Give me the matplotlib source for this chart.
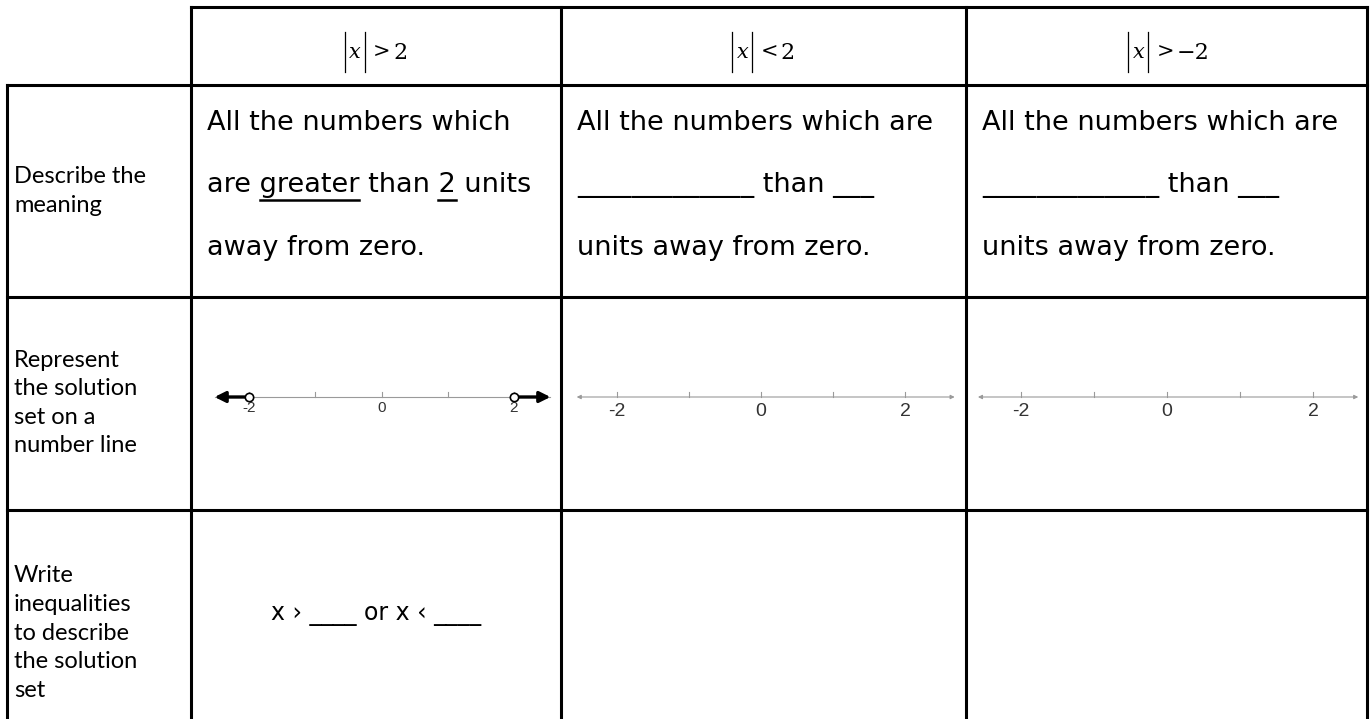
import numpy as np
import matplotlib.pyplot as plt

# table content
header_ops = ['>', '<', '>']
header_vals = ['2', '2', '\u22122']
row_labels = ['Describe the\nmeaning',
              'Represent\nthe solution\nset on a\nnumber line',
              'Write\ninequalities\nto describe\nthe solution\nset']
describe_col1 = ['All the numbers which', 'are greater than 2 units', 'away from zero.']
underlined_col1 = [('are ', 'greater'), ('are greater than ', '2')]
describe_blank = ['All the numbers which are', '_____________ than ___', 'units away from zero.']
inequality_text = 'x \u203a ____ or x \u2039 ____'

# number lines
tick_vals = [-2, -1, 0, 1, 2]
label_vals = [-2, 0, 2]
open_points = [-2, 2]

W, H = 1370, 719
col_x = [7, 191, 561, 966, 1367]
row_y = [7, 85, 297, 510, 719]

fig = plt.figure(figsize=(W / 100, H / 100), dpi=100)
ax = fig.add_axes([0, 0, 1, 1])
ax.set_xlim(0, W)
ax.set_ylim(H, 0)
ax.axis('off')

lw = 2.2
# horizontal borders
ax.plot([col_x[1], col_x[-1]], [row_y[0], row_y[0]], color='black', lw=lw)
for y in row_y[1:4]:
    ax.plot([col_x[0], col_x[-1]], [y, y], color='black', lw=lw)
# vertical borders
ax.plot([col_x[0], col_x[0]], [row_y[1], H], color='black', lw=lw)
for x in col_x[1:]:
    ax.plot([x, x], [row_y[0], H], color='black', lw=lw)

label_font = 'Lato'
body_font = 'DejaVu Sans'
math_font = 'DejaVu Serif'

# header: |x| op val, with tall bars
hy = 52
for i, (op, val) in enumerate(zip(header_ops, header_vals)):
    cx = (col_x[i + 1] + col_x[i + 2]) / 2
    extra = 14 if val.startswith('\u2212') else 0
    x0 = cx - (62 + extra) / 2
    ax.plot([x0, x0], [hy - 20, hy + 20], color='black', lw=0.9)
    ax.text(x0 + 10, hy, 'x', ha='center', va='center', fontsize=15,
            family=math_font, style='italic')
    ax.plot([x0 + 20, x0 + 20], [hy - 20, hy + 20], color='black', lw=0.9)
    ax.text(x0 + 37, hy, op, ha='center', va='center', fontsize=15, family=math_font)
    ax.text(x0 + 48, hy + 1, val, ha='left', va='center', fontsize=16, family=math_font)

# row labels
label_centers = [191, 403, 633]
for lab, yc in zip(row_labels, label_centers):
    ax.text(14, yc, lab, ha='left', va='center', fontsize=17,
            family=label_font, linespacing=1.45)

# describe row
line_y = [123, 185, 248]
fsz = 19.5
fig.canvas.draw()
renderer = fig.canvas.get_renderer()


def text_width(s):
    t = ax.text(0, 0, s.replace(' ', '\u00a0'), fontsize=fsz, family=body_font)
    bb = t.get_window_extent(renderer)
    t.remove()
    return bb.width


for s, y in zip(describe_col1, line_y):
    ax.text(207, y, s, ha='left', va='center', fontsize=fsz, family=body_font)
# underline words in the middle line
for prefix, word in underlined_col1:
    x0 = 207 + text_width(prefix)
    x1 = 207 + text_width(prefix + word)
    ax.plot([x0, x1], [line_y[1] + 15, line_y[1] + 15], color='black', lw=1.8)

for c in (2, 3):
    for s, y in zip(describe_blank, line_y):
        ax.text(col_x[c] + 16, y, s, ha='left', va='center', fontsize=fsz, family=body_font)

# number lines: (zero px, unit px, left end, right end)
nl_specs = [(381.5, 66.25, -2.52, 2.55), (761, 72, -2.56, 2.69), (1167, 73, -2.59, 2.62)]
ny = 397
for c, (zero, unit, lo, hi) in enumerate(nl_specs):
    L, R = col_x[c + 1] + 4, col_x[c + 2] - 4
    nax = fig.add_axes([L / W, 1 - (ny + 40) / H, (R - L) / W, 80 / H])
    nax.set_xlim((L - zero) / unit, (R - zero) / unit)
    nax.set_ylim(-1, 1)
    nax.axis('off')
    gray = '#9a9a9a'
    if c == 0:
        nax.plot([lo, hi], [0, 0], color=gray, lw=0.8)
        for end, start in ((lo, open_points[0]), (hi, open_points[1])):
            nax.annotate('', xy=(end, 0), xytext=(start, 0),
                         arrowprops=dict(arrowstyle='-|>', color='black', lw=2.4,
                                         mutation_scale=16, shrinkA=3, shrinkB=0))
        nax.plot(open_points, [0, 0], 'o', ms=6, mfc='white', mec='black', mew=1.2, zorder=5)
        for v in tick_vals:
            nax.plot([v, v], [0, 0.12], color=gray, lw=0.8)
        for v in label_vals:
            nax.text(v, -0.1, str(v), ha='center', va='top', fontsize=11,
                     family='Liberation Sans', color='#333333')
    else:
        nax.annotate('', xy=(lo, 0), xytext=(hi, 0),
                     arrowprops=dict(arrowstyle='<|-|>', color=gray, lw=0.8,
                                     mutation_scale=6, shrinkA=0, shrinkB=0))
        for v in tick_vals:
            nax.plot([v, v], [0, 0.12], color=gray, lw=0.8)
        for v in label_vals:
            nax.text(v, -0.15, str(v), ha='center', va='top', fontsize=14,
                     family='Liberation Sans', color='#333333')

# inequality row
ax.text((col_x[1] + col_x[2]) / 2, 614, inequality_text, ha='center', va='center',
        fontsize=17, family=body_font)

fig.savefig('out.png', dpi=100)
